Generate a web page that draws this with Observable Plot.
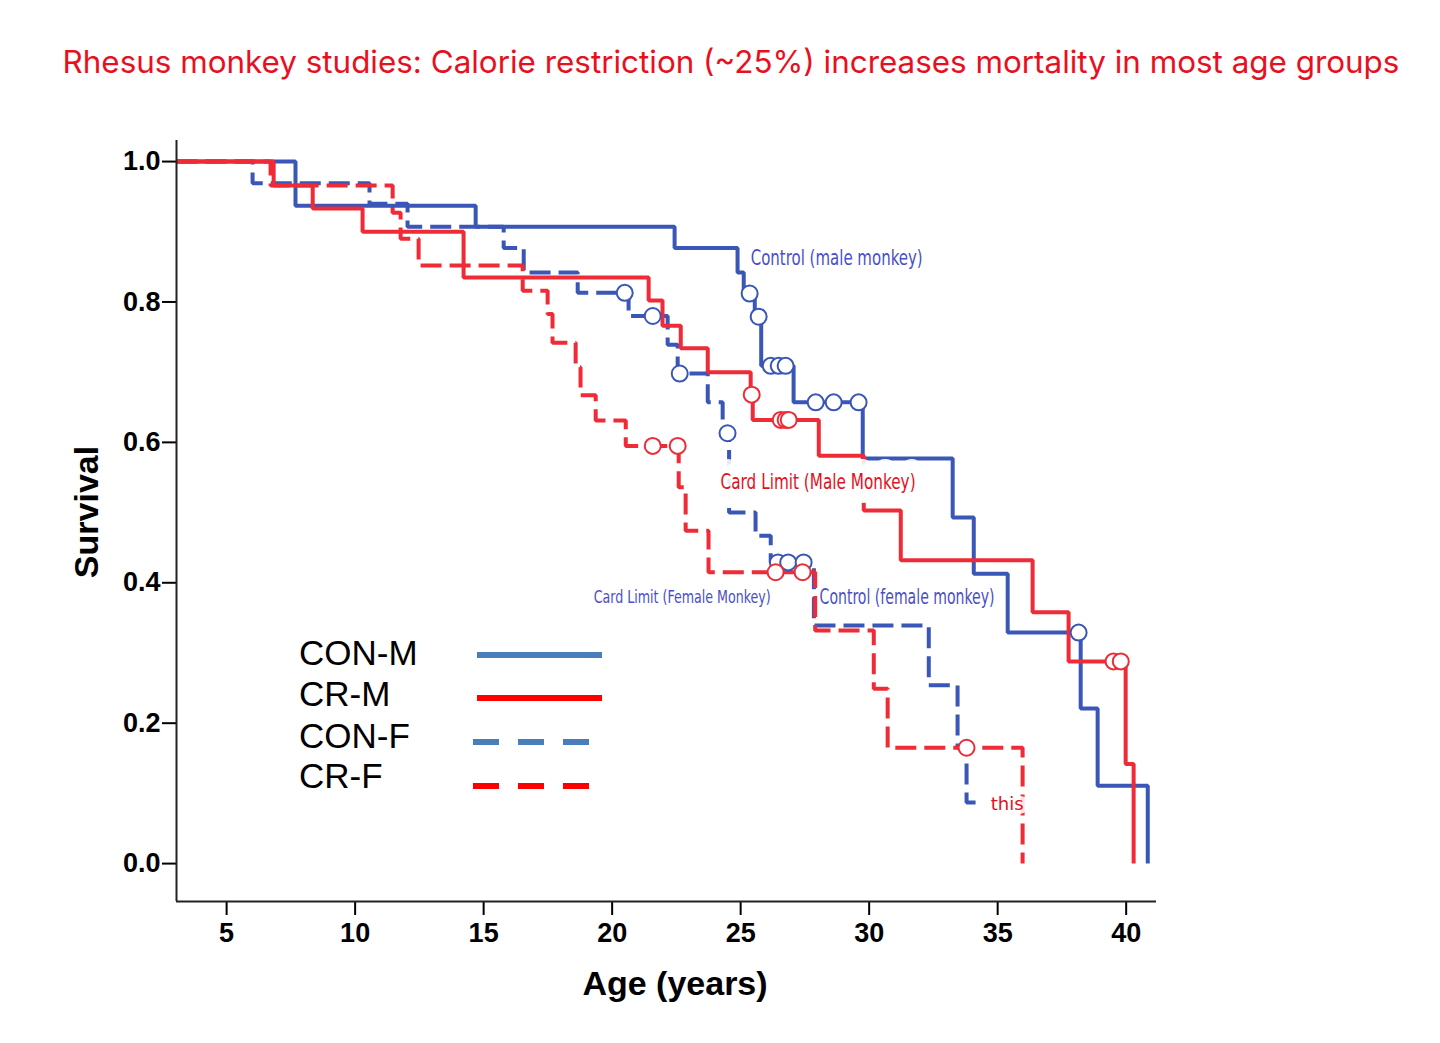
<!DOCTYPE html>
<html>
<head>
<meta charset="utf-8">
<script src="https://cdn.jsdelivr.net/npm/d3@7"></script>
<script src="https://cdn.jsdelivr.net/npm/@observablehq/plot@0.6"></script>
<style>
  html, body { margin: 0; padding: 0; background: #fff; }
  #wrap { position: relative; width: 1440px; height: 1043px; overflow: hidden; background: #fff; }
  #title { position: absolute; left: 0; width: 1462px; top: 43px; text-align: center;
           font-family: Inter, "Noto Sans", sans-serif; font-size: 31.4px; color: #e8101e; white-space: nowrap; }
  #chart { position: absolute; left: 0; top: 0; }
  .axt { position: absolute; font-family: "Liberation Sans", Arial, sans-serif; font-weight: bold; color: #000; white-space: nowrap; }
  #xlab { left: 675px; top: 983px; transform: translate(-50%, -50%); font-size: 34px; }
  #ylab { left: 86px; top: 512px; transform: translate(-50%, -50%) rotate(-90deg); font-size: 34px; }
  #legend { position: absolute; left: 0; top: 0; }
</style>
</head>
<body>
<div id="wrap">
  <div id="title">Rhesus monkey studies: Calorie restriction (~25%) increases mortality in most age groups</div>
  <div id="chart"></div>
  <div class="axt" id="xlab">Age (years)</div>
  <div class="axt" id="ylab">Survival</div>
  <svg id="legend" width="1440" height="1043"></svg>
</div>
<script>
// ---- Data ----
const xTicks = [5, 10, 15, 20, 25, 30, 35, 40];
const yTicks = [0, 0.2, 0.4, 0.6, 0.8, 1.0];
const xDomain = [3.05, 41.18];
const yDomain = [-0.054, 1.03];

// CON-M (control, male) – Kaplan–Meier steps
const conM_t = [3.05, 7.68, 14.69, 22.43, 24.88, 25.12, 25.55, 25.80, 27.06, 29.75, 33.25, 34.07, 35.39, 38.23, 38.89, 40.84];
const conM_s = [1.0, 0.937, 0.907, 0.877, 0.842, 0.812, 0.779, 0.709, 0.657, 0.577, 0.493, 0.413, 0.329, 0.221, 0.111, 0];
const conM_ct = [25.35, 25.70, 26.17, 26.48, 26.75, 27.92, 28.62, 29.59, 38.15];
const conM_cs = [0.812, 0.779, 0.709, 0.709, 0.709, 0.657, 0.657, 0.657, 0.329];

// CR-M (calorie restricted, male)
const crM_t = [3.05, 6.83, 8.35, 10.29, 14.22, 21.42, 21.96, 22.67, 23.72, 25.39, 25.47, 28.04, 29.79, 31.23, 36.36, 37.76, 39.98, 40.29];
const crM_s = [1.0, 0.966, 0.933, 0.900, 0.835, 0.802, 0.766, 0.734, 0.700, 0.668, 0.632, 0.581, 0.503, 0.432, 0.358, 0.288, 0.142, 0];
const crM_ct = [25.43, 26.56, 26.75, 26.87, 39.51, 39.79];
const crM_cs = [0.668, 0.632, 0.632, 0.632, 0.288, 0.288];

// CON-F (control, female)
const conF_t = [3.05, 6.01, 10.56, 12.04, 15.78, 16.56, 18.66, 20.64, 22.16, 22.55, 23.72, 24.30, 24.55, 25.58, 26.17, 27.85, 32.32, 33.44, 33.79, 34.14];
const conF_s = [1.0, 0.969, 0.940, 0.907, 0.877, 0.842, 0.813, 0.780, 0.739, 0.698, 0.657, 0.613, 0.500, 0.467, 0.429, 0.339, 0.254, 0.165, 0.087, 0.087];
const conF_ct = [20.49, 21.58, 22.63, 24.49, 26.45, 26.85, 27.45];
const conF_cs = [0.813, 0.780, 0.698, 0.613, 0.429, 0.429, 0.429];

// CR-F (calorie restricted, female)
const crF_t = [3.05, 6.71, 11.46, 11.77, 12.47, 16.52, 17.49, 17.68, 18.58, 18.77, 19.36, 20.53, 22.59, 22.86, 23.75, 27.90, 30.18, 30.72, 35.97];
const crF_s = [1.0, 0.966, 0.927, 0.890, 0.852, 0.816, 0.783, 0.742, 0.707, 0.667, 0.631, 0.595, 0.536, 0.474, 0.415, 0.332, 0.249, 0.165, 0];
const crF_ct = [21.58, 22.55, 26.36, 27.41, 33.79];
const crF_cs = [0.595, 0.595, 0.415, 0.415, 0.165];

// Annotations
const annText  = ["Control (male monkey)", "Card Limit (Male Monkey)", "Card Limit (Female Monkey)", "Control (female monkey)", "this"];
const annX     = [25.39, 24.22, 19.28, 28.07, 34.73];
const annY     = [0.862, 0.543, 0.379, 0.380, 0.084];
const annColor = ["#4a4fc8", "#e3101c", "#4a4fc8", "#4a4fc8", "#e3101c"];
const annSize  = [21, 21, 17, 21, 17];
const annWidth = [172, 195, 177, 175, 33];
const annHalo  = [8, 28, 8, 6, 8];

// Legend
const legendLabels = ["CON-M", "CR-M", "CON-F", "CR-F"];

// ---- Build ----
const BLUE = "#3a56b6", RED = "#ee2b36";
const steps = (t, s) => t.map((x, i) => ({x, y: s[i]}));
const cens = (t, s) => t.map((x, i) => ({x, y: s[i]}));
const ann = annText.map((t, i) => ({t, x: annX[i], y: annY[i], c: annColor[i], f: annSize[i], h: annHalo[i]}));

const lineOpts = (color, dashed) => ({x: "x", y: "y", curve: "step-after", stroke: color, strokeWidth: 4,
  strokeDasharray: dashed ? "21,8" : null, strokeLinejoin: "miter", strokeLinecap: "butt"});
const dotOpts = (color) => ({x: "x", y: "y", r: 8, fill: "white", stroke: color, strokeWidth: 2});

const fontAx = "'Liberation Sans', Arial, sans-serif";
const chart = Plot.plot({
  width: 1440, height: 1043,
  marginLeft: 176, marginRight: 284, marginTop: 140, marginBottom: 142,
  x: {domain: xDomain},
  y: {domain: yDomain},
  style: {background: "transparent", fontFamily: fontAx, color: "#000", overflow: "visible"},
  marks: [
    Plot.axisY({ticks: yTicks, tickFormat: d3.format(".1f"), tickSize: 14, tickPadding: 2, fontSize: 27, fontWeight: "bold", label: null, strokeWidth: 2, fontFamily: fontAx}),
    Plot.axisX({ticks: xTicks, tickFormat: d3.format("d"), tickSize: 14, tickPadding: 7, fontSize: 27, fontWeight: "bold", label: null, strokeWidth: 2, fontFamily: fontAx}),
    Plot.line(steps(conF_t, conF_s), lineOpts(BLUE, true)),
    Plot.line(steps(crF_t, crF_s), lineOpts(RED, true)),
    Plot.line(steps(conM_t, conM_s), lineOpts(BLUE, false)),
    Plot.line(steps(crM_t, crM_s), lineOpts(RED, false)),
    Plot.dot(cens(conF_ct, conF_cs), dotOpts(BLUE)),
    Plot.dot(cens(crF_ct, crF_cs), dotOpts(RED)),
    Plot.dot(cens(conM_ct, conM_cs), dotOpts(BLUE)),
    Plot.dot(cens(crM_ct, crM_cs), dotOpts(RED)),
    Plot.text(ann, {x: "x", y: "y", text: "t", fill: "c", fontSize: "f", textAnchor: "start",
      stroke: "white", strokeWidth: "h", strokeOpacity: 0.88,
      fontFamily: "'Liberation Sans Narrow', 'DejaVu Sans Condensed', Roboto, sans-serif"}),
    Plot.ruleX([xDomain[0]], {y1: yDomain[0], y2: yDomain[1], stroke: "#222", strokeWidth: 2}),
    Plot.ruleY([yDomain[0]], {x1: xDomain[0], x2: xDomain[1], stroke: "#222", strokeWidth: 2})
  ]
});
document.getElementById("chart").appendChild(chart);

// Condense annotation text to the reference widths
chart.querySelectorAll("text").forEach((el) => {
  const idx = annText.indexOf(el.textContent.trim());
  if (idx >= 0) {
    el.setAttribute("textLength", annWidth[idx]);
    el.setAttribute("lengthAdjust", "spacingAndGlyphs");
  }
});

// Legend (overlay inside plot area)
const lg = d3.select("#legend");
const legRows = [
  {y: 652, color: "#4a7ebb", dashed: false, x1: 477, x2: 602, ly: 655},
  {y: 693, color: "#ff0000", dashed: false, x1: 477, x2: 602, ly: 698},
  {y: 735, color: "#4a7ebb", dashed: true, x1: 473, x2: 590, ly: 742},
  {y: 775, color: "#ff0000", dashed: true, x1: 473, x2: 590, ly: 786}
];
legendLabels.forEach((lab, i) => {
  const r = legRows[i];
  lg.append("text").attr("x", 299).attr("y", r.y).attr("dy", "0.36em")
    .attr("font-family", fontAx).attr("font-size", 35).attr("fill", "#000").text(lab);
  lg.append("line").attr("x1", r.x1).attr("x2", r.x2).attr("y1", r.ly).attr("y2", r.ly)
    .attr("stroke", r.color).attr("stroke-width", 6)
    .attr("stroke-dasharray", r.dashed ? "26,19" : null);
});
</script>
</body>
</html>
